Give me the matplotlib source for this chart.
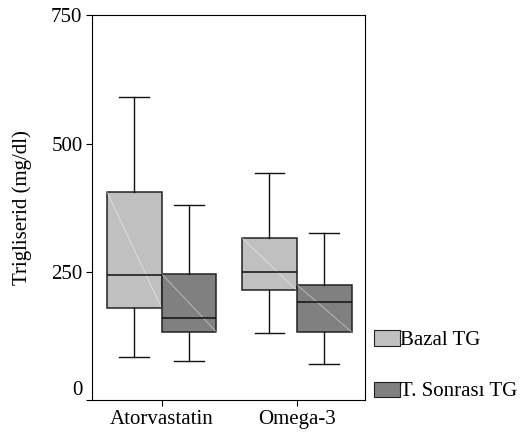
import matplotlib.pyplot as plt
from matplotlib.patches import Patch

plt.rcParams['font.family'] = ['Liberation Serif', 'DejaVu Serif']

groups = ['Atorvastatin', 'Omega-3']
series = ['Bazal TG', 'T. Sonrası TG']
colors = ['#c0c0c0', '#808080']

# whislo, q1, med, q3, whishi  per group, per series
bazal = [[84, 179, 244, 406, 591], [131, 214, 249, 316, 443]]
sonrasi = [[77, 133, 161, 246, 380], [70, 133, 191, 225, 325]]

fig = plt.figure(figsize=(5.21, 4.34), dpi=100)
ax = fig.add_axes([0.177, 0.078, 0.524, 0.887])

width = 0.405
offsets = [-width / 2, width / 2]
for s, (data, col) in enumerate(zip([bazal, sonrasi], colors)):
    stats = []
    for d in data:
        stats.append(dict(whislo=d[0], q1=d[1], med=d[2], q3=d[3], whishi=d[4], fliers=[]))
    pos = [i + offsets[s] for i in range(len(groups))]
    ax.bxp(stats, positions=pos, widths=width, patch_artist=True, showfliers=False,
           boxprops=dict(facecolor=col, edgecolor='#222222', linewidth=1.1),
           medianprops=dict(color='#111111', linewidth=1.1),
           whiskerprops=dict(color='#111111', linewidth=1.0),
           capprops=dict(color='#111111', linewidth=1.0),
           capwidths=0.22, manage_ticks=False)
    # faint diagonal line across each box
    for p, d in zip(pos, data):
        ax.plot([p - width / 2, p + width / 2], [d[3], d[1]], color='white', lw=0.6, alpha=0.5)

ax.set_xlim(-0.514, 1.506)
ax.set_ylim(0, 750)
ax.set_yticks([0, 250, 500, 750])
ax.set_xticks(range(len(groups)))
ax.set_xticklabels(groups)
ax.tick_params(labelsize=15, direction='out', length=4, pad=3)
ax.get_yticklabels()[0].set_va('bottom')
ax.set_ylabel('Trigliserid (mg/dl)', fontsize=15, labelpad=14)

handles = [Patch(facecolor=c, edgecolor='#222222', lw=0.8) for c in colors]
ax.legend(handles, series, loc='lower left', bbox_to_anchor=(1.0, -0.025), frameon=False,
          fontsize=15, handlelength=1.25, handleheight=0.75, handletextpad=0.0,
          labelspacing=1.5, borderaxespad=0)

fig.savefig('out.png', dpi=100)
